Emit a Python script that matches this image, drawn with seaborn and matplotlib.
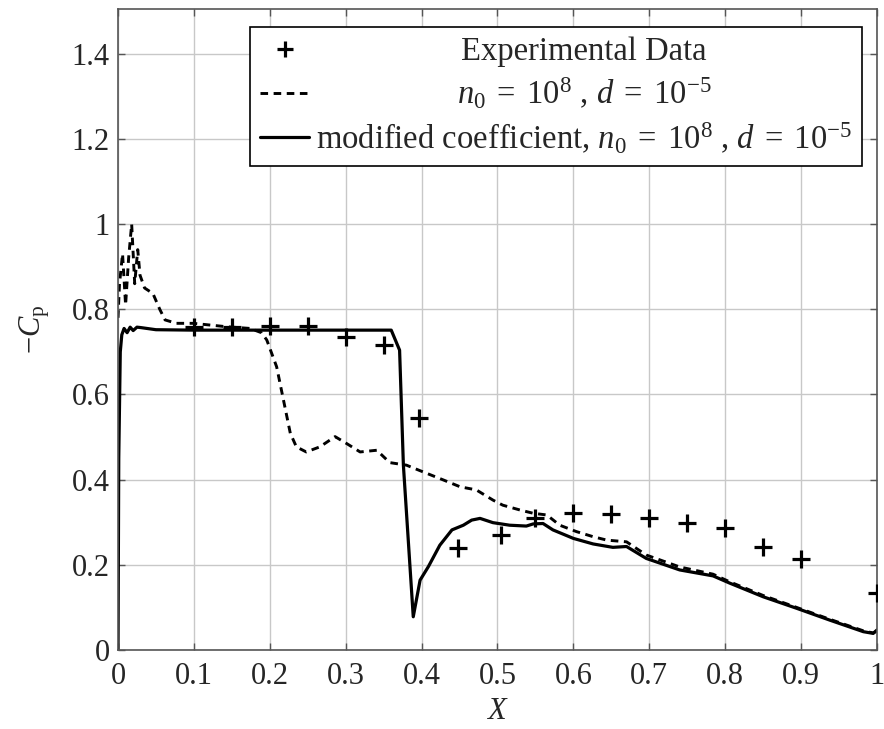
import matplotlib
matplotlib.use("Agg")
import matplotlib.pyplot as plt
import seaborn as sns
import pandas as pd
from matplotlib.lines import Line2D

# ---- data ----
exp_x = [0.1, 0.15, 0.2, 0.25, 0.3, 0.35, 0.396, 0.448, 0.504, 0.55, 0.6, 0.65,
         0.7, 0.75, 0.8, 0.85, 0.9, 1.0]
exp_y = [0.759, 0.758, 0.761, 0.761, 0.734, 0.716, 0.544, 0.239, 0.27, 0.309, 0.321,
         0.32, 0.311, 0.299, 0.287, 0.243, 0.213, 0.133]

dash_x = [0, 0.002, 0.006, 0.01, 0.014, 0.018, 0.022, 0.026, 0.029, 0.035, 0.046,
          0.055, 0.062, 0.077, 0.099, 0.121, 0.143, 0.174, 0.189, 0.196, 0.209, 0.218,
          0.227, 0.235, 0.248, 0.266, 0.286, 0.301, 0.319, 0.341, 0.358, 0.38, 0.398,
          0.429, 0.451, 0.472, 0.494, 0.507, 0.529, 0.547, 0.565, 0.582, 0.604, 0.626,
          0.644, 0.67, 0.696, 0.74, 0.784, 0.806, 0.85, 0.894, 0.938, 0.982, 0.995, 1.0]
dash_y = [0.78, 0.86, 0.93, 0.81, 0.92, 1.0, 0.86, 0.94, 0.88, 0.85, 0.837,
          0.80, 0.775, 0.767, 0.767, 0.763, 0.759, 0.755, 0.745, 0.728, 0.665, 0.587,
          0.509, 0.477, 0.465, 0.477, 0.501, 0.485, 0.465, 0.469, 0.44, 0.434, 0.421,
          0.399, 0.383, 0.376, 0.352, 0.34, 0.329, 0.321, 0.317, 0.293, 0.278, 0.266,
          0.258, 0.254, 0.223, 0.195, 0.178, 0.16, 0.128, 0.1, 0.072, 0.045, 0.04, 0.045]

mod_x = [0, 0.001, 0.003, 0.005, 0.008, 0.012, 0.016, 0.02, 0.025, 0.03, 0.05, 0.1,
         0.2, 0.3, 0.36, 0.371, 0.376, 0.389, 0.398, 0.409, 0.424, 0.44, 0.455, 0.466,
         0.477, 0.494, 0.516, 0.538, 0.547, 0.56, 0.573, 0.6, 0.626, 0.652, 0.67, 0.696,
         0.74, 0.784, 0.806, 0.85, 0.894, 0.938, 0.982, 0.995, 1.0]
mod_y = [0.0, 0.45, 0.70, 0.74, 0.755, 0.745, 0.758, 0.750, 0.758, 0.757, 0.752, 0.751,
         0.751, 0.751, 0.751, 0.704, 0.434, 0.078, 0.164, 0.196, 0.246, 0.282, 0.293, 0.305,
         0.309, 0.299, 0.293, 0.291, 0.296, 0.297, 0.282, 0.262, 0.249, 0.241, 0.243, 0.215,
         0.188, 0.174, 0.157, 0.125, 0.098, 0.07, 0.043, 0.039, 0.047]

x_ticks = [0, 0.1, 0.2, 0.3, 0.4, 0.5, 0.6, 0.7, 0.8, 0.9, 1]
x_ticklabels = ["0", "0.1", "0.2", "0.3", "0.4", "0.5", "0.6", "0.7", "0.8", "0.9", "1"]
y_ticks = [0, 0.2, 0.4, 0.6, 0.8, 1.0, 1.2, 1.4]
y_ticklabels = ["0", "0.2", "0.4", "0.6", "0.8", "1", "1.2", "1.4"]

labels = ["Experimental Data",
          r"$n_0 \;=\; 10^8$ , $d \;=\; 10^{-5}$",
          r"modified coefficient, $n_0 \;=\; 10^8$ , $d \;=\; 10^{-5}$"]

# ---- style ----
sns.set_theme(style="whitegrid")
plt.rcParams["font.family"] = ["Liberation Serif", "DejaVu Serif"]
plt.rcParams["mathtext.fontset"] = "custom"
plt.rcParams["mathtext.rm"] = "Liberation Serif"
plt.rcParams["mathtext.it"] = "Liberation Serif:italic"
plt.rcParams["mathtext.bf"] = "Liberation Serif:bold"

FS = 22
LFS = 23.5
DASH = (0, (2.6, 1.9))
fig = plt.figure(figsize=(8.84, 7.29), dpi=100)
ax = fig.add_axes([118 / 884, 79 / 729, (877 - 118) / 884, (650 - 9) / 729])

df_d = pd.DataFrame({"x": dash_x, "y": dash_y})
df_m = pd.DataFrame({"x": mod_x, "y": mod_y})
df_e = pd.DataFrame({"x": exp_x, "y": exp_y})

sns.lineplot(data=df_d, x="x", y="y", ax=ax, color="black", lw=2.1, sort=False,
             estimator=None, linestyle=DASH)
sns.lineplot(data=df_m, x="x", y="y", ax=ax, color="black", lw=2.3, sort=False,
             estimator=None)
sns.scatterplot(data=df_e, x="x", y="y", ax=ax, marker="+", s=170, color="black",
                linewidth=2.3, zorder=5)

ax.set_xlim(0, 1)
ax.set_ylim(0, 1.505)
ax.set_xticks(x_ticks)
ax.set_xticklabels(x_ticklabels)
ax.set_yticks(y_ticks)
ax.set_yticklabels(y_ticklabels)
ax.tick_params(axis="both", which="both", direction="in", length=5, width=1,
               color="#555555", labelsize=FS, top=True, right=True,
               bottom=True, left=True)
ax.tick_params(axis="x", pad=9)
ax.tick_params(axis="y", pad=6)
ax.grid(True, color="#c8c8c8", lw=1.0)
ax.set_axisbelow(True)
for s in ax.spines.values():
    s.set_color("#555555")
    s.set_linewidth(1.2)

ax.set_xlabel(r"$X$", fontsize=FS, labelpad=4)
ax.set_ylabel(r"$-C_\mathrm{p}$", fontsize=FS, labelpad=14)

handles = [
    Line2D([], [], color="black", marker="+", ls="none", markersize=11, mew=2.3),
    Line2D([], [], color="black", lw=2.1, ls=DASH),
    Line2D([], [], color="black", lw=2.3),
]
leg = ax.legend(handles, labels, loc="upper right", fontsize=LFS, frameon=True,
                fancybox=False, framealpha=1, edgecolor="black",
                bbox_to_anchor=(0.98, 0.972), borderaxespad=0,
                handlelength=1.5, handletextpad=0.2, labelspacing=0.28,
                borderpad=0.3)
leg.get_frame().set_linewidth(1.2)

fig.canvas.draw()
renderer = fig.canvas.get_renderer()
texts = leg.get_texts()
widths = [t.get_window_extent(renderer).width for t in texts]
mw = max(widths)
for t, w in zip(texts, widths):
    t.set_position(((mw - w) / 2, 0))

fig.savefig("out.png", dpi=100)
